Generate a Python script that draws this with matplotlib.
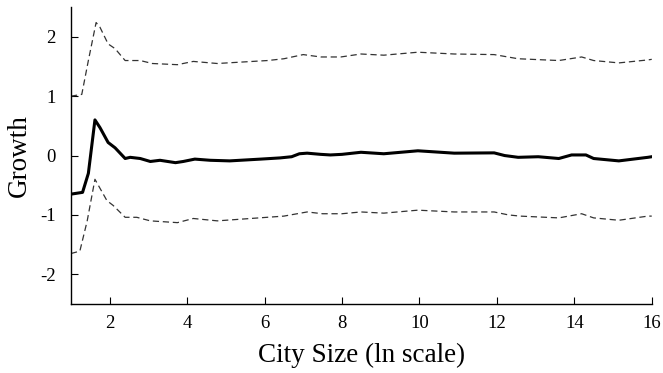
import numpy as np
import matplotlib
matplotlib.use("Agg")
import matplotlib.pyplot as plt

# city size (ln scale) and estimated growth
x_mean = [1.0, 1.3, 1.45, 1.62, 1.75, 1.96, 2.14, 2.4, 2.53, 2.79, 3.05, 3.3, 3.7,
          3.9, 4.2, 4.6, 5.1, 5.9, 6.4, 6.7, 6.9, 7.1, 7.45, 7.7, 8.0, 8.49, 9.08,
          9.96, 10.9, 11.93, 12.2, 12.55, 13.07, 13.6, 13.93, 14.3, 14.5, 15.15, 15.9, 16.0]
y_mean = [-0.65, -0.62, -0.3, 0.6, 0.47, 0.22, 0.13, -0.05, -0.03, -0.05, -0.1, -0.08, -0.12,
          -0.1, -0.06, -0.08, -0.09, -0.06, -0.04, -0.02, 0.03, 0.04, 0.02, 0.01, 0.02, 0.055, 0.03,
          0.08, 0.04, 0.045, 0.0, -0.03, -0.02, -0.05, 0.01, 0.01, -0.05, -0.09, -0.03, -0.02]

x_upper = [1.0, 1.28, 1.45, 1.65, 1.75, 1.96, 2.14, 2.4, 2.79, 3.1, 3.75, 4.16, 4.78,
           6.08, 6.5, 7.0, 7.45, 7.97, 8.49, 9.08, 9.96, 10.9, 11.93, 12.55, 13.6,
           14.19, 14.5, 15.15, 15.9, 16.0]
y_upper = [1.0, 1.03, 1.6, 2.24, 2.16, 1.88, 1.8, 1.6, 1.6, 1.55, 1.53, 1.585, 1.55,
           1.6, 1.63, 1.7, 1.66, 1.66, 1.71, 1.69, 1.74, 1.71, 1.7, 1.63, 1.6,
           1.66, 1.6, 1.56, 1.61, 1.62]

x_lower = [1.0, 1.23, 1.42, 1.62, 1.93, 2.09, 2.4, 2.7, 3.05, 3.75, 4.16, 4.78,
           6.07, 6.5, 7.1, 7.5, 8.0, 8.49, 9.08, 9.96, 10.9, 11.93, 12.3, 12.6,
           13.6, 14.19, 14.5, 15.15, 15.9, 16.0]
y_lower = [-1.65, -1.61, -1.1, -0.4, -0.76, -0.84, -1.04, -1.04, -1.1, -1.13, -1.06, -1.1,
           -1.04, -1.02, -0.95, -0.98, -0.98, -0.95, -0.97, -0.92, -0.95, -0.95, -1.0, -1.02,
           -1.05, -0.98, -1.05, -1.09, -1.02, -1.02]

x_ticks = [2, 4, 6, 8, 10, 12, 14, 16]
y_ticks = [-2, -1, 0, 1, 2]

plt.rcParams["font.family"] = "Liberation Serif"
plt.rcParams["axes.unicode_minus"] = False

fig = plt.figure(figsize=(6.63, 3.73), dpi=100)
ax = fig.add_axes([0.107, 0.185, 0.876, 0.796])

ax.plot(x_upper, y_upper, color="#333333", linewidth=0.9, dashes=(5, 3))
ax.plot(x_lower, y_lower, color="#333333", linewidth=0.9, dashes=(5, 3))
ax.plot(x_mean, y_mean, color="black", linewidth=2.2)

ax.set_xlim(1, 16)
ax.set_ylim(-2.5, 2.5)
ax.set_xticks(x_ticks)
ax.set_yticks(y_ticks)
ax.spines["top"].set_visible(False)
ax.spines["right"].set_visible(False)
ax.spines["left"].set_linewidth(1.0)
ax.spines["bottom"].set_linewidth(1.0)
ax.tick_params(axis="x", direction="in", length=5, pad=8, labelsize=13.5)
ax.tick_params(axis="y", direction="in", length=5, pad=11, labelsize=13.5)

ax.set_xlabel("City Size (ln scale)", fontsize=19.5, labelpad=8)
ax.set_ylabel("Growth", fontsize=19.5, labelpad=6)

fig.savefig("out.png", dpi=100)
